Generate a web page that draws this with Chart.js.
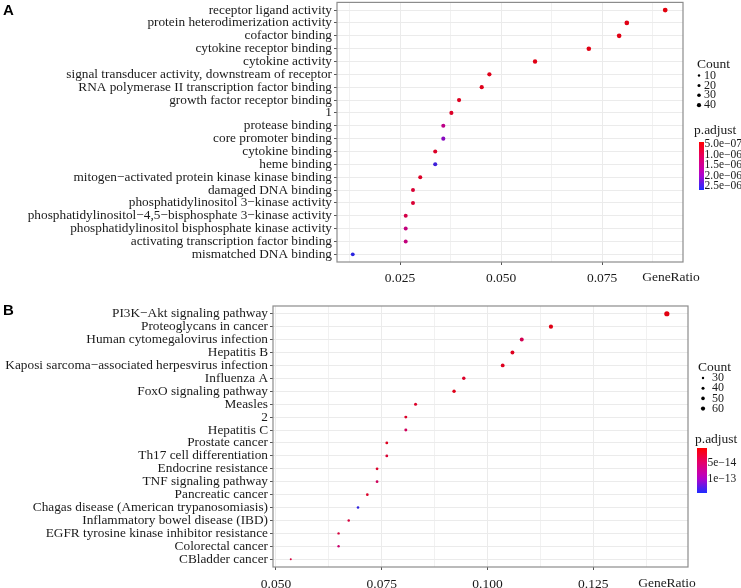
<!DOCTYPE html>
<html>
<head>
<meta charset="utf-8">
<script src="https://cdn.jsdelivr.net/npm/chart.js@4.4.1/dist/chart.umd.min.js"></script>
<style>
  html, body { margin: 0; padding: 0; background: #fff; }
  #wrap { position: relative; width: 741px; height: 588px; overflow: hidden; }
  canvas { position: absolute; left: 0; }
  .tag { position: absolute; font: bold 15px "Liberation Sans", Arial, sans-serif; color: #000; }
</style>
</head>
<body>
<div id="wrap">
  <canvas id="chartA" width="741" height="290" style="top:0"></canvas>
  <canvas id="chartB" width="741" height="298" style="top:290px"></canvas>
  <div class="tag" style="left:3px;top:1px">A</div>
  <div class="tag" style="left:3px;top:301px">B</div>
</div>
<script>
// ---- panel A: GO terms ----
const A_terms = [
  'receptor ligand activity',
  'protein heterodimerization activity',
  'cofactor binding',
  'cytokine receptor binding',
  'cytokine activity',
  'signal transducer activity, downstream of receptor',
  'RNA polymerase II transcription factor binding',
  'growth factor receptor binding',
  '1',
  'protease binding',
  'core promoter binding',
  'cytokine binding',
  'heme binding',
  'mitogen−activated protein kinase kinase binding',
  'damaged DNA binding',
  'phosphatidylinositol 3−kinase activity',
  'phosphatidylinositol−4,5−bisphosphate 3−kinase activity',
  'phosphatidylinositol bisphosphate kinase activity',
  'activating transcription factor binding',
  'mismatched DNA binding'
];
const A_ratio = [0.0906, 0.0811, 0.0792, 0.0717, 0.0584, 0.0471, 0.0452, 0.0396, 0.0377, 0.0357,
                 0.0357, 0.0337, 0.0337, 0.0300, 0.0282, 0.0282, 0.0264, 0.0264, 0.0264, 0.0133];
const A_count = [48, 43, 42, 38, 31, 25, 24, 21, 20, 19, 19, 18, 18, 16, 15, 15, 14, 14, 14, 7];
const A_padj  = [5e-7, 5.5e-7, 5.5e-7, 5.5e-7, 5.5e-7, 6e-7, 6e-7, 6.5e-7, 7e-7, 1.5e-6,
                 2.1e-6, 7e-7, 2.5e-6, 7e-7, 8e-7, 8e-7, 9.5e-7, 1.4e-6, 1.4e-6, 2.6e-6];
const A_xTicks = [0.025, 0.050, 0.075];
const A_xTickLabels = ['0.025', '0.050', '0.075'];
const A_xMinor = [0.0125, 0.0375, 0.0625, 0.0875];
const A_countLegend = [10, 20, 30, 40];
const A_padjRange = [4e-7, 2.69e-6];
const A_padjLegend = [5e-7, 1e-6, 1.5e-6, 2e-6, 2.5e-6];
const A_padjLegendLabels = ['5.0e−07', '1.0e−06', '1.5e−06', '2.0e−06', '2.5e−06'];

// ---- panel B: KEGG pathways ----
const B_terms = [
  'PI3K−Akt signaling pathway',
  'Proteoglycans in cancer',
  'Human cytomegalovirus infection',
  'Hepatitis B',
  'Kaposi sarcoma−associated herpesvirus infection',
  'Influenza A',
  'FoxO signaling pathway',
  'Measles',
  '2',
  'Hepatitis C',
  'Prostate cancer',
  'Th17 cell differentiation',
  'Endocrine resistance',
  'TNF signaling pathway',
  'Pancreatic cancer',
  'Chagas disease (American trypanosomiasis)',
  'Inflammatory bowel disease (IBD)',
  'EGFR tyrosine kinase inhibitor resistance',
  'Colorectal cancer',
  'CBladder cancer'
];
const B_ratio = [0.1424, 0.1150, 0.1081, 0.1059, 0.1036, 0.0944, 0.0921, 0.0830, 0.0807, 0.0807,
                 0.0762, 0.0762, 0.0739, 0.0739, 0.0716, 0.0694, 0.0672, 0.0648, 0.0648, 0.0535];
const B_count = [62, 50, 47, 46, 45, 41, 40, 36, 35, 35, 33, 33, 32, 32, 31, 30, 29, 28, 28, 23];
const B_padj  = [8e-15, 1e-14, 4e-14, 1.5e-14, 1.5e-14, 2e-14, 1.2e-14, 2e-14, 2e-14, 4.5e-14,
                 1.5e-14, 2.5e-14, 2e-14, 4.5e-14, 2e-14, 1.4e-13, 3e-14, 3e-14, 5.5e-14, 3e-14];
const B_xTicks = [0.050, 0.075, 0.100, 0.125];
const B_xTickLabels = ['0.050', '0.075', '0.100', '0.125'];
const B_xMinor = [0.0625, 0.0875, 0.1125, 0.1375];
const B_countLegend = [30, 40, 50, 60];
const B_padjRange = [0, 1.47e-13];
const B_padjLegend = [5e-14, 1e-13];
const B_padjLegendLabels = ['5e−14', '1e−13'];

const SERIF = '"Liberation Serif", "Times New Roman", serif';
const TEXT = '#1a1a1a';
const GRID = '#ebebeb';

// red -> magenta -> blue, roughly what ggplot's Lab gradient gives
const STOPS = [[255, 0, 0], [228, 0, 110], [185, 0, 200], [30, 45, 255]];
function padjRGB(p, range) {
  let t = (p - range[0]) / (range[1] - range[0]);
  t = Math.min(1, Math.max(0, t)) * (STOPS.length - 1);
  const i = Math.min(STOPS.length - 2, Math.floor(t)), f = t - i;
  return STOPS[i].map((v, k) => Math.round(v + (STOPS[i + 1][k] - v) * f));
}
function padjColor(p, range, shade = 1) {
  const c = padjRGB(p, range).map(v => Math.round(v * shade));
  return `rgb(${c[0]},${c[1]},${c[2]})`;
}

function near(a, b) { return Math.abs(a - b) < 1e-9; }

// legends, panel border and the GeneRatio label
function makeDecor(p) {
  return {
    id: 'decor',
    afterDraw(chart) {
      const ctx = chart.ctx, a = chart.chartArea;
      ctx.save();
      ctx.strokeStyle = '#8c8c8c';
      ctx.lineWidth = 1.2;
      ctx.strokeRect(a.left, a.top, a.right - a.left, a.bottom - a.top);

      ctx.fillStyle = TEXT;
      ctx.textBaseline = 'middle';
      ctx.font = `13.5px ${SERIF}`;
      ctx.textAlign = 'center';
      ctx.fillText('GeneRatio', p.ratioX, p.ratioY);

      // size legend
      ctx.textAlign = 'left';
      ctx.font = `13.5px ${SERIF}`;
      ctx.fillText('Count', p.countX, p.countY);
      ctx.font = `12px ${SERIF}`;
      p.countLegend.forEach((c, i) => {
        const y = p.countY + p.countStart + i * p.countStep;
        ctx.beginPath();
        ctx.fillStyle = '#000';
        ctx.arc(p.dotX, y, p.legendSize(c), 0, Math.PI * 2);
        ctx.fill();
        ctx.fillStyle = TEXT;
        ctx.fillText(String(c), p.countLabelX, y);
      });

      // colour bar
      ctx.font = `13.5px ${SERIF}`;
      ctx.fillText('p.adjust', p.padjX, p.padjY);
      const g = ctx.createLinearGradient(0, p.barTop, 0, p.barBottom);
      for (let k = 0; k <= 10; k++) {
        const v = p.padjRange[0] + (p.padjRange[1] - p.padjRange[0]) * k / 10;
        g.addColorStop(k / 10, padjColor(v, p.padjRange));
      }
      ctx.fillStyle = g;
      ctx.fillRect(p.barX, p.barTop, p.barW, p.barBottom - p.barTop);
      ctx.font = `11.5px ${SERIF}`;
      ctx.fillStyle = TEXT;
      p.padjLegend.forEach((v, i) => {
        const y = p.barTop + (v - p.padjRange[0]) / (p.padjRange[1] - p.padjRange[0]) * (p.barBottom - p.barTop);
        ctx.fillText(p.padjLegendLabels[i], p.barX + p.barW + 0.5, y);
      });
      ctx.restore();
    }
  };
}

function dotPlot(id, p) {
  const grid = p.xTicks.concat(p.xMinor).sort((u, v) => u - v);
  const isMajor = v => p.xTicks.some(t => near(t, v));
  return new Chart(document.getElementById(id), {
    type: 'scatter',
    data: {
      datasets: [{
        data: p.ratio.map((r, i) => ({ x: r, y: i + 1 })),
        pointRadius: p.count.map(p.size),
        pointBackgroundColor: p.padj.map(v => padjColor(v, p.padjRange, 0.9)),
        pointBorderWidth: 0,
        pointHoverRadius: p.count.map(p.size)
      }]
    },
    options: {
      responsive: false,
      animation: false,
      devicePixelRatio: 1,
      layout: { padding: { top: p.padTop, right: p.padRight, bottom: 0, left: 0 } },
      plugins: { legend: { display: false }, tooltip: { enabled: false } },
      scales: {
        x: {
          type: 'linear', min: p.xMin, max: p.xMax,
          afterBuildTicks: s => { s.ticks = grid.map(v => ({ value: v })); },
          afterFit: s => { s.height = p.xHeight; s.paddingLeft = 0; s.paddingRight = 0; },
          ticks: {
            autoSkip: false, maxRotation: 0, padding: p.xPad, color: TEXT,
            font: { family: SERIF, size: 13.5 },
            callback: v => {
              const i = p.xTicks.findIndex(t => near(t, v));
              return i < 0 ? '' : p.xTickLabels[i];
            }
          },
          grid: {
            color: GRID, tickLength: 3,
            lineWidth: c => (c.tick && isMajor(c.tick.value)) ? 1 : 0.7,
            tickColor: c => (c.tick && isMajor(c.tick.value)) ? '#555' : 'rgba(0,0,0,0)'
          },
          border: { display: false }
        },
        y: {
          type: 'linear', reverse: true, min: 0.4, max: p.terms.length + 0.6,
          afterBuildTicks: s => { s.ticks = p.terms.map((t, i) => ({ value: i + 1 })); },
          afterFit: s => { s.width = p.yWidth; s.paddingTop = 0; s.paddingBottom = 0; },
          ticks: {
            autoSkip: false, padding: 2, color: TEXT,
            font: { family: SERIF, size: 13.3 },
            callback: v => p.terms[Math.round(v) - 1]
          },
          grid: { color: GRID, tickLength: 3, tickColor: '#555' },
          border: { display: false }
        }
      }
    },
    plugins: [makeDecor(p)]
  });
}

dotPlot('chartA', {
  terms: A_terms, ratio: A_ratio, count: A_count, padj: A_padj,
  xTicks: A_xTicks, xTickLabels: A_xTickLabels, xMinor: A_xMinor,
  xMin: 0.0094, xMax: 0.095, yWidth: 337, xHeight: 28, xPad: 5,
  padTop: 2, padRight: 58,
  size: c => 1.9 + (c - 7) / 41 * 0.5,
  legendSize: c => 1.2 + (c - 10) / 30 * 0.9,
  padjRange: A_padjRange, padjLegend: A_padjLegend, padjLegendLabels: A_padjLegendLabels,
  countLegend: A_countLegend,
  ratioX: 671, ratioY: 277,
  countX: 697, countY: 64, countStart: 11.5, countStep: 9.9, dotX: 699, countLabelX: 704,
  padjX: 694, padjY: 130, barX: 699, barW: 5, barTop: 142, barBottom: 190
});

dotPlot('chartB', {
  terms: B_terms, ratio: B_ratio, count: B_count, padj: B_padj,
  xTicks: B_xTicks, xTickLabels: B_xTickLabels, xMinor: B_xMinor,
  xMin: 0.0493, xMax: 0.1474, yWidth: 273, xHeight: 21, xPad: 6,
  padTop: 16, padRight: 53,
  size: c => 1.0 + (c - 23) / 39 * 1.6,
  legendSize: c => 1.2 + (c - 30) / 30 * 0.9,
  padjRange: B_padjRange, padjLegend: B_padjLegend, padjLegendLabels: B_padjLegendLabels,
  countLegend: B_countLegend,
  ratioX: 667, ratioY: 293,
  countX: 698, countY: 77, countStart: 11, countStep: 10.2, dotX: 703, countLabelX: 712,
  padjX: 695, padjY: 149, barX: 697, barW: 10, barTop: 158, barBottom: 203
});
</script>
</body>
</html>
